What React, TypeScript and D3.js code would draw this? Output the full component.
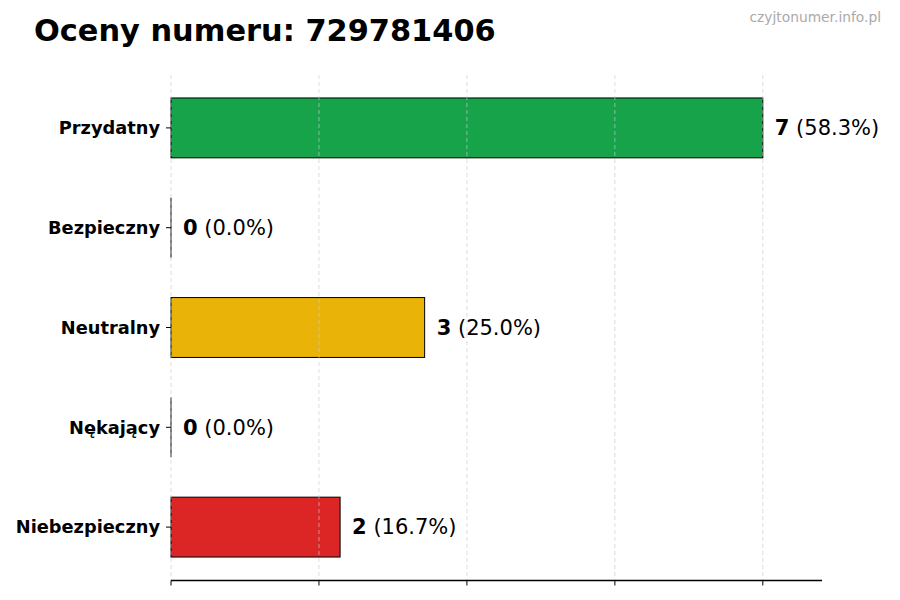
import React from "react";
import * as d3 from "d3";

const categories = ["Przydatny", "Bezpieczny", "Neutralny", "Nękający", "Niebezpieczny"];
const counts = [7, 0, 3, 0, 2];
const percents = ["58.3%", "0.0%", "25.0%", "0.0%", "16.7%"];
const colors = ["#16a34a", "#6b7280", "#eab308", "#f97316", "#dc2626"];
const xTicks = [0, 1.75, 3.5, 5.25, 7];
const titleText = "Oceny numeru: 729781406";
const watermark = "czyjtonumer.info.pl";

const W = 900;
const H = 600;
const left = 171;
const right = 822;
const top = 78;
const bottom = 577;
const axisY = 580.5;

export default function App() {
  const maxV = d3.max(counts) ?? 1;
  const x = d3.scaleLinear().domain([0, maxV * 1.1]).range([left, right]);
  const y = d3.scaleBand<string>().domain(categories).range([top, bottom]).paddingInner(0.4).paddingOuter(0.2);
  const font = "'DejaVu Sans', sans-serif";

  return (
    <svg width={W} height={H} style={{ position: "absolute", left: 0, top: 0, background: "#fff" }} fontFamily={font}>
      <rect x={0} y={0} width={W} height={H} fill="#fff" />
      <text x={34} y={41} fontSize={30.4} fontWeight="bold" fill="#000">{titleText}</text>
      <text x={881} y={22} fontSize={13.8} fill="#aaa" textAnchor="end">{watermark}</text>

      {categories.map((c, i) =>
        counts[i] > 0 ? (
          <rect
            key={c}
            x={x(0)}
            y={y(c)!}
            width={x(counts[i]) - x(0)}
            height={y.bandwidth()}
            fill={colors[i]}
            stroke="#000"
            strokeWidth={1}
          />
        ) : (
          <line key={c} x1={x(0)} x2={x(0)} y1={y(c)!} y2={y(c)! + y.bandwidth()} stroke="#000" strokeWidth={1} />
        )
      )}

      {xTicks.map((t) => (
        <g key={t}>
          <line x1={x(t)} x2={x(t)} y1={75} y2={axisY} stroke="#ccc" strokeWidth={0.8} strokeDasharray="4,3" opacity={0.8} />
          <line x1={x(t)} x2={x(t)} y1={axisY} y2={axisY + 5} stroke="#000" strokeWidth={1} />
        </g>
      ))}

      <line x1={left} x2={right} y1={axisY} y2={axisY} stroke="#000" strokeWidth={1.3} />

      {categories.map((c, i) => {
        const cy = y(c)! + y.bandwidth() / 2;
        return (
          <g key={c}>
            <line x1={left - 5} x2={left} y1={cy} y2={cy} stroke="#000" strokeWidth={1} />
            <text x={160} y={cy} dy="0.35em" textAnchor="end" fontSize={17.8} fontWeight="bold" fill="#000">{c}</text>
            <text x={x(counts[i]) + 12} y={cy} dy="0.35em" fontSize={21} fill="#000">
              <tspan fontWeight="bold">{counts[i]}</tspan>
              <tspan> ({percents[i]})</tspan>
            </text>
          </g>
        );
      })}
    </svg>
  );
}
